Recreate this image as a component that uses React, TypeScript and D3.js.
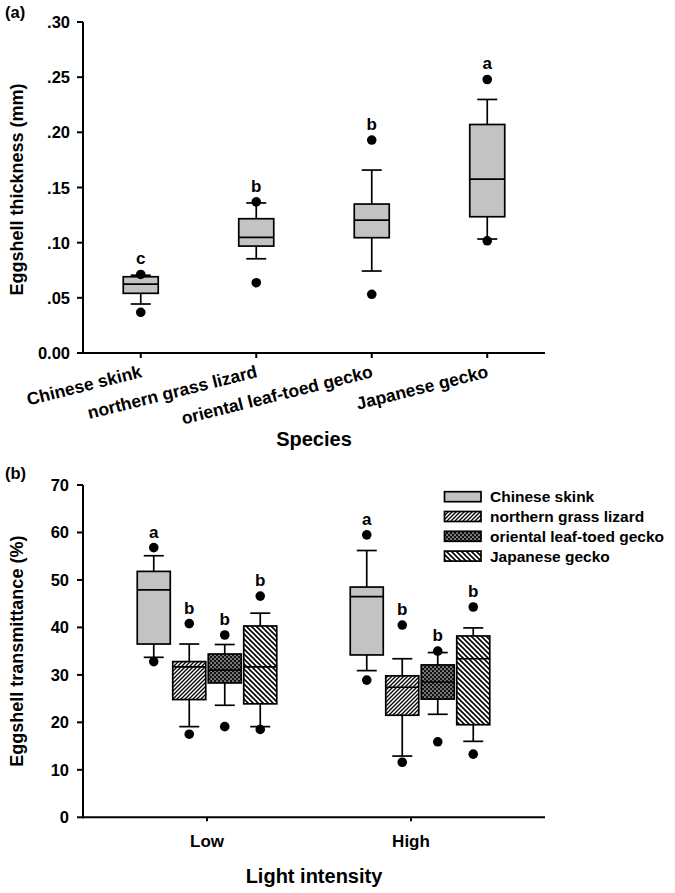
import React from 'react';
import * as d3 from 'd3';

// ---------- Panel (a): eggshell thickness by species ----------
const speciesA = ['Chinese skink', 'northern grass lizard', 'oriental leaf-toed gecko', 'Japanese gecko'];
const aWhiskLo = [0.0444, 0.0854, 0.0743, 0.1033];
const aQ1 = [0.0541, 0.0969, 0.1045, 0.1235];
const aMedian = [0.0625, 0.1048, 0.1205, 0.1576];
const aQ3 = [0.0691, 0.1217, 0.135, 0.2071];
const aWhiskHi = [0.0705, 0.136, 0.1658, 0.2298];
const aOutLo = [0.0369, 0.0637, 0.0532, 0.1017];
const aOutHi = [0.0712, 0.137, 0.193, 0.2479];
const aLetters = ['c', 'b', 'b', 'a'];
const aTicks = [0, 0.05, 0.1, 0.15, 0.2, 0.25, 0.3];

// ---------- Panel (b): eggshell transmittance by light intensity ----------
const groupsB = ['Low', 'High'];
const bWhiskLo = [[33.7, 19.1, 23.6, 19.1], [30.9, 12.9, 21.7, 16.0]];
const bQ1 = [[36.5, 24.8, 28.3, 23.9], [34.2, 21.5, 24.9, 19.5]];
const bMedian = [[47.9, 31.7, 31.0, 31.7], [46.5, 27.4, 28.5, 33.4]];
const bQ3 = [[51.8, 32.8, 34.4, 40.3], [48.5, 29.8, 32.1, 38.2]];
const bWhiskHi = [[55.1, 36.5, 36.4, 43.0], [56.2, 33.4, 34.7, 39.9]];
const bOutLo = [[32.8, 17.5, 19.1, 18.5], [28.9, 11.6, 15.9, 13.3]];
const bOutHi = [[56.8, 40.8, 38.4, 46.6], [59.5, 40.5, 35.0, 44.3]];
const bLetters = [['a', 'b', 'b', 'b'], ['a', 'b', 'b', 'b']];
const bTicks = [0, 10, 20, 30, 40, 50, 60, 70];

const FONT = "'Liberation Sans', Arial, Helvetica, sans-serif";
const GRAY = '#c3c3c3';
const fills = [GRAY, 'url(#pNorth)', 'url(#pOrient)', 'url(#pJapan)'];

type BoxProps = {
  cx: number; w: number; capW: number;
  y: (v: number) => number;
  wlo: number; q1: number; med: number; q3: number; whi: number;
  olo: number; ohi: number; fill: string; letter: string;
};

function Box({ cx, w, capW, y, wlo, q1, med, q3, whi, olo, ohi, fill, letter }: BoxProps) {
  const sw = 1.7;
  return (
    <g>
      <line x1={cx} x2={cx} y1={y(whi)} y2={y(q3)} stroke="#000" strokeWidth={sw} />
      <line x1={cx} x2={cx} y1={y(q1)} y2={y(wlo)} stroke="#000" strokeWidth={sw} />
      <line x1={cx - capW / 2} x2={cx + capW / 2} y1={y(whi)} y2={y(whi)} stroke="#000" strokeWidth={sw} />
      <line x1={cx - capW / 2} x2={cx + capW / 2} y1={y(wlo)} y2={y(wlo)} stroke="#000" strokeWidth={sw} />
      <rect x={cx - w / 2} y={y(q3)} width={w} height={y(q1) - y(q3)} fill={fill} stroke="#000" strokeWidth={sw} />
      <line x1={cx - w / 2} x2={cx + w / 2} y1={y(med)} y2={y(med)} stroke="#000" strokeWidth={sw} />
      <circle cx={cx} cy={y(olo)} r={4.8} fill="#000" />
      <circle cx={cx} cy={y(ohi)} r={4.8} fill="#000" />
      <text x={cx} y={y(ohi) - 10} textAnchor="middle" fontSize={17}>{letter}</text>
    </g>
  );
}

export default function App() {
  // scales panel (a)
  const yA = d3.scaleLinear().domain([0, 0.3]).range([353, 22]);
  const xA = d3.scaleBand<string>().domain(speciesA).range([83, 545]);
  const fmtA = (v: number) => (v === 0 ? '0.00' : d3.format('.2f')(v).replace(/^0/, ''));

  // scales panel (b)
  const yB = d3.scaleLinear().domain([0, 70]).range([817.3, 485]);
  const xB = d3.scalePoint<string>().domain(groupsB).range([207, 411]);
  const groupShift = [0, 9];
  const inner = d3.scaleBand<string>().domain(speciesA).range([-71, 71]).paddingInner(0.07).paddingOuter(0.035);

  const axisW = 2;

  return (
    <svg width={675} height={893} style={{ position: 'absolute', left: 0, top: 0, background: '#fff' }}
      fontFamily={FONT} fontWeight="bold" fill="#000">
      <defs>
        <pattern id="pNorth" patternUnits="userSpaceOnUse" width={4} height={4}>
          <rect width={4} height={4} fill="#fff" />
          <path d="M-1,1 l2,-2 M0,4 l4,-4 M3,5 l2,-2" stroke="#000" strokeWidth={1.3} />
        </pattern>
        <pattern id="pJapan" patternUnits="userSpaceOnUse" width={5} height={5}>
          <rect width={5} height={5} fill="#fff" />
          <path d="M-1,4 l2,2 M0,0 l5,5 M4,-1 l2,2" stroke="#000" strokeWidth={1.6} />
        </pattern>
        <pattern id="pOrient" patternUnits="userSpaceOnUse" width={4} height={4}>
          <rect width={4} height={4} fill="#111" />
          <rect x={0.4} y={0.4} width={1.3} height={1.3} fill="#fff" />
          <rect x={2.4} y={2.4} width={1.3} height={1.3} fill="#fff" />
        </pattern>
      </defs>

      {/* ================= Panel (a) ================= */}
      <text x={5} y={18} fontSize={16.5}>(a)</text>
      <line x1={83} x2={83} y1={yA(0.3)} y2={yA(0) + 1} stroke="#000" strokeWidth={axisW} />
      <line x1={82} x2={545} y1={yA(0)} y2={yA(0)} stroke="#000" strokeWidth={axisW} />
      {aTicks.map((t) => (
        <g key={'ya' + t}>
          <line x1={77} x2={83} y1={yA(t)} y2={yA(t)} stroke="#000" strokeWidth={axisW} />
          <text x={70} y={yA(t) + 6} textAnchor="end" fontSize={16.5}>{fmtA(t)}</text>
        </g>
      ))}
      {speciesA.map((s) => {
        const cx = xA(s)! + xA.bandwidth() / 2;
        return (
          <g key={'xa' + s}>
            <line x1={cx} x2={cx} y1={yA(0)} y2={yA(0) + 5} stroke="#000" strokeWidth={axisW} />
            <text transform={`translate(${cx + 2},${yA(0) + 24}) rotate(-14)`} textAnchor="end" fontSize={17.5}>{s}</text>
          </g>
        );
      })}
      <text transform={`translate(22.5,${(yA(0) + yA(0.3)) / 2 + 2}) rotate(-90)`} textAnchor="middle" fontSize={18}>Eggshell thickness (mm)</text>
      <text x={314} y={446} textAnchor="middle" fontSize={20}>Species</text>

      {speciesA.map((s, i) => (
        <Box key={'ba' + s} cx={xA(s)! + xA.bandwidth() / 2} w={35} capW={20} y={yA}
          wlo={aWhiskLo[i]} q1={aQ1[i]} med={aMedian[i]} q3={aQ3[i]} whi={aWhiskHi[i]}
          olo={aOutLo[i]} ohi={aOutHi[i]} fill={GRAY} letter={aLetters[i]} />
      ))}

      {/* ================= Panel (b) ================= */}
      <text x={5} y={479} fontSize={16.5}>(b)</text>
      <line x1={83} x2={83} y1={yB(70)} y2={yB(0) + 1} stroke="#000" strokeWidth={axisW} />
      <line x1={82} x2={545} y1={yB(0)} y2={yB(0)} stroke="#000" strokeWidth={axisW} />
      {bTicks.map((t) => (
        <g key={'yb' + t}>
          <line x1={77} x2={83} y1={yB(t)} y2={yB(t)} stroke="#000" strokeWidth={axisW} />
          <text x={69} y={yB(t) + 6} textAnchor="end" fontSize={16.5}>{t}</text>
        </g>
      ))}
      {groupsB.map((g) => (
        <g key={'xb' + g}>
          <line x1={xB(g)!} x2={xB(g)!} y1={yB(0)} y2={yB(0) + 4} stroke="#000" strokeWidth={axisW} />
          <text x={xB(g)!} y={847} textAnchor="middle" fontSize={17}>{g}</text>
        </g>
      ))}
      <text transform={`translate(23,${(yB(0) + yB(70)) / 2}) rotate(-90)`} textAnchor="middle" fontSize={18}>Eggshell transmittance (%)</text>
      <text x={314} y={883} textAnchor="middle" fontSize={20}>Light intensity</text>

      {groupsB.map((g, gi) =>
        speciesA.map((s, i) => {
          const cx = xB(g)! + groupShift[gi] + inner(s)! + inner.bandwidth() / 2;
          return (
            <Box key={'bb' + g + s} cx={cx} w={inner.bandwidth()} capW={20} y={yB}
              wlo={bWhiskLo[gi][i]} q1={bQ1[gi][i]} med={bMedian[gi][i]} q3={bQ3[gi][i]} whi={bWhiskHi[gi][i]}
              olo={bOutLo[gi][i]} ohi={bOutHi[gi][i]} fill={fills[i]} letter={bLetters[gi][i]} />
          );
        })
      )}

      {/* legend */}
      {speciesA.map((s, i) => {
        const cy = 496.7 + i * 19.8;
        return (
          <g key={'lg' + s}>
            <rect x={444.5} y={cy - 5} width={36.5} height={10} fill={fills[i]} stroke="#000" strokeWidth={1.7} />
            <text x={490} y={cy + 5.5} fontSize={15.5}>{s}</text>
          </g>
        );
      })}
    </svg>
  );
}
